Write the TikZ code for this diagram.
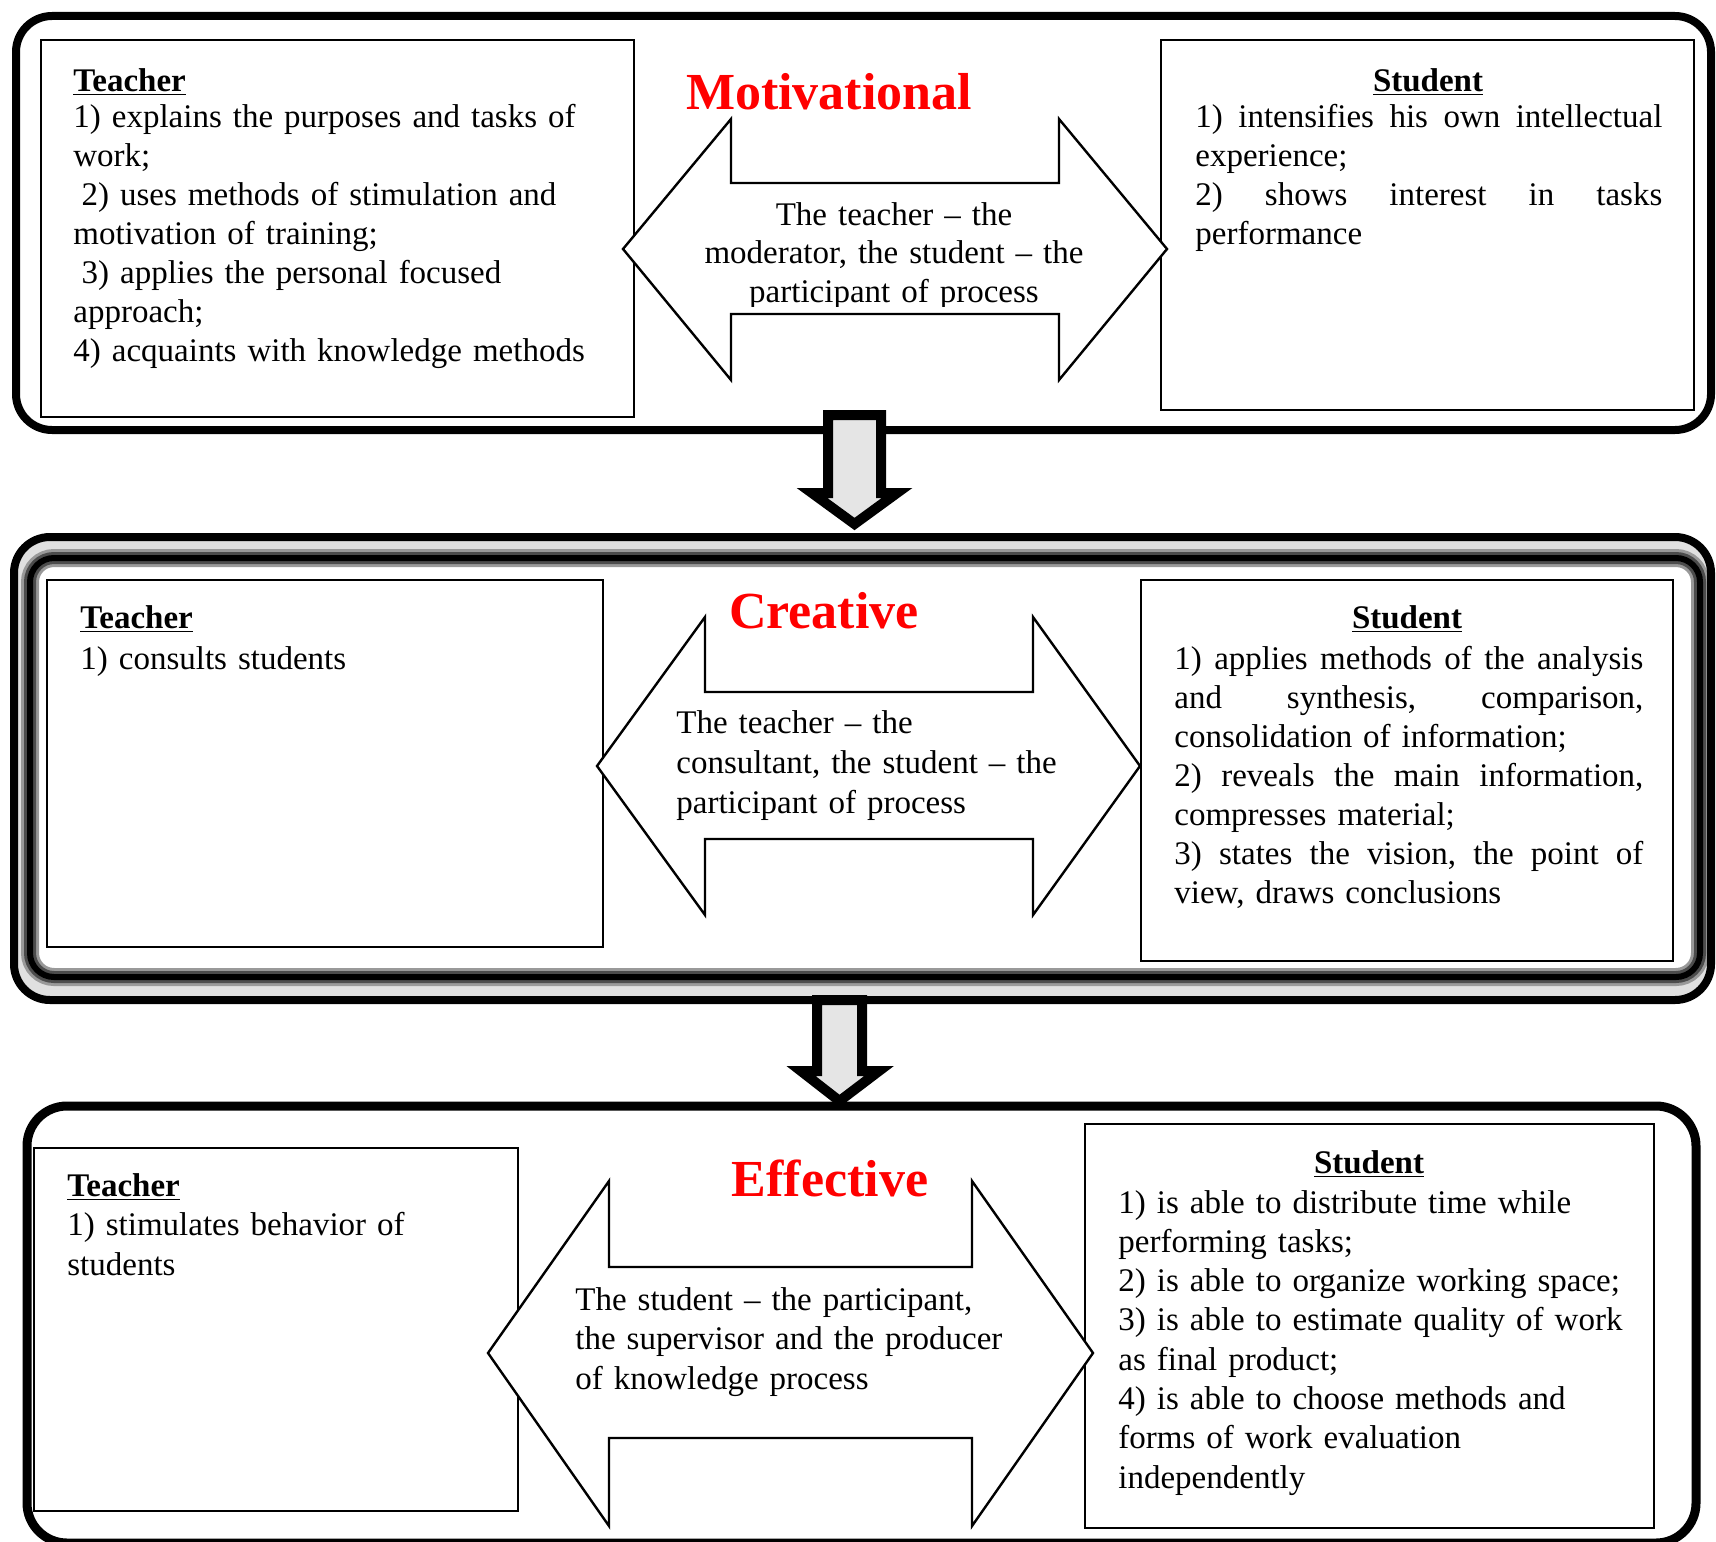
\documentclass[tikz,border=0pt]{standalone}
\usepackage{fontspec}
\setmainfont{Liberation Serif}
\newcommand\DblArr[9]{\draw[dblarrow] (#1,#9) -- (#2,#5) -- (#2,#6) -- (#3,#6) -- (#3,#5) -- (#4,#9) -- (#3,#8) -- (#3,#7) -- (#2,#7) -- (#2,#8) -- cycle;}
\newcommand\DownArr[7]{\draw[downarrow] (#1,#3) -- (#2,#3) -- (#2,#4) -- (#6,#4) -- ({(#1+#2)/2},#7) -- (#5,#4) -- (#1,#4) -- cycle;}
\newcommand\JL[1]{\hbox to \hsize{#1}}
\newcommand\gap{\hskip 0.25em plus 1fil\relax}
\begin{document}
\begin{tikzpicture}[x=0.5pt,y=-0.5pt,
  body/.style={font=\fontsize{16.5}{19.5}\selectfont, inner sep=0pt, align=left, anchor=base west},
  head/.style={font=\fontsize{16.5}{19.5}\selectfont\bfseries, inner sep=0pt},
  ttl/.style={font=\fontsize{26}{30}\selectfont\bfseries, text=red, inner sep=0pt, anchor=base},
  panel/.style={draw=black, line width=4pt, rounded corners=18pt},
  tbox/.style={draw=black, line width=1.2pt},
  dblarrow/.style={draw=black, fill=white, line width=1.2pt, line join=miter},
  downarrow/.style={draw=black, fill=black!10, line width=5pt, line join=miter},
]
\useasboundingbox (0,0) rectangle (1716,1541);

% ---------------- Panel 1: Motivational ----------------
\draw[panel] (16,16) rectangle (1711,430);
\draw[tbox] (41,40) rectangle (634,417);
\draw[tbox] (1161,40) rectangle (1694,410);
\node[head, anchor=base west] (th1) at (73,91) {\underline{Teacher}};
\node[body, text width=275pt] (tb1) at (73,127) {1) explains the purposes and tasks of\\
work;\\
\hspace*{0.25em}2) uses methods of stimulation and\\
motivation of training;\\
\hspace*{0.25em}3) applies the personal focused\\
approach;\\
4) acquaints with knowledge methods};
\node[head, anchor=base] (sh1) at (1428,91) {\underline{Student}};
\node[body, text width=233.5pt] (sb1) at (1195,127) {\JL{1)\gap intensifies\gap his\gap own\gap intellectual}
experience;\\
\JL{2)\gap shows\gap interest\gap in\gap tasks}
performance};
\DblArr{623}{731}{1059}{1167}{119}{183}{314}{380}{249}
\begin{scope}
\clip (700,186) rectangle (1090,306);
\node[font=\fontsize{16.5}{19.25}\selectfont, inner sep=0pt, align=center, text width=200pt, anchor=base] (at1) at (894,225) {The teacher -- the\\ moderator, the student -- the\\ participant of process};
\end{scope}
\node[ttl] (t1) at (829,110) {Motivational};

% ---------------- Panel 2: Creative ----------------
\fill[black!12, rounded corners=18pt] (14,537) rectangle (1711,1000);
\draw[line width=9pt, black!40, fill=white, rounded corners=12pt] (30,558) rectangle (1700,977);
\draw[line width=6pt, black!70, rounded corners=12pt] (30,558) rectangle (1700,977);
\draw[line width=3pt, black, rounded corners=12pt] (30,558) rectangle (1700,977);
\draw[panel] (14,537) rectangle (1711,1000);
\draw[tbox] (47,580) rectangle (603,947);
\draw[tbox] (1141,580) rectangle (1673,961);
\node[head, anchor=base west] (th2) at (80,628) {\underline{Teacher}};
\node[body, text width=270pt] (tb2) at (80,669) {1) consults students};
\node[head, anchor=base] (sh2) at (1407,628) {\underline{Student}};
\node[body, text width=234.5pt] (sb2) at (1174,669) {\JL{1)\gap applies\gap methods\gap of\gap the\gap analysis}
\JL{and\gap synthesis,\gap comparison,}
consolidation of information;\\
\JL{2)\gap reveals\gap the\gap main\gap information,}
compresses material;\\
\JL{3)\gap states\gap the\gap vision,\gap the\gap point\gap of}
view, draws conclusions};
\DblArr{597}{705}{1033}{1140}{617}{692}{839}{915}{766}
\node[body, font=\fontsize{16.5}{20}\selectfont, text width=200pt] (at2) at (676,733) {The teacher -- the\\ consultant, the student -- the\\ participant of process};
\node[ttl] (t2) at (824,628) {Creative};

% ---------------- Panel 3: Effective ----------------
\draw[panel, line width=4.5pt, rounded corners=20pt] (27,1106) rectangle (1696,1543);
\draw[tbox] (34,1148) rectangle (518,1511);
\draw[tbox] (1085,1124) rectangle (1654,1528);
\node[head, anchor=base west] (th3) at (67,1196) {\underline{Teacher}};
\node[body, font=\fontsize{16.5}{20}\selectfont, text width=220pt] (tb3) at (67,1235) {1) stimulates behavior of\\ students};
\node[head, anchor=base] (sh3) at (1369,1173) {\underline{Student}};
\node[body, font=\fontsize{16.5}{19.65}\selectfont, text width=265pt] (sb3) at (1118,1213) {1) is able to distribute time while\\
performing tasks;\\
2) is able to organize working space;\\
3) is able to estimate quality of work\\
as final product;\\
4) is able to choose methods and\\
forms of work evaluation\\
independently};
\DblArr{488}{609}{972}{1093}{1181}{1267}{1438}{1526}{1353}
\node[body, font=\fontsize{16.5}{19.75}\selectfont, text width=230pt] (at3) at (575,1310) {The student -- the participant,\\ the supervisor and the producer\\ of knowledge process};
\node[ttl] (t3) at (830,1196) {Effective};

% ---------------- Down arrows between panels ----------------
\DownArr{828}{881}{415}{493}{812}{897}{524}
\DownArr{817}{862}{1000}{1071}{801}{879}{1101}
\end{tikzpicture}
\end{document}
